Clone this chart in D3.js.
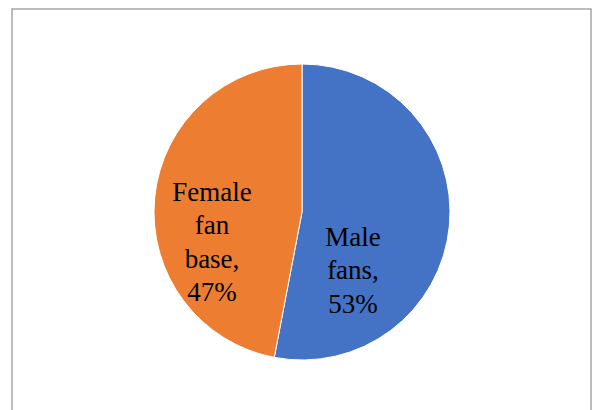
<!DOCTYPE html>
<html>
<head>
<meta charset="utf-8">
<script src="https://cdn.jsdelivr.net/npm/d3@7"></script>
</head>
<body style="margin:0;background:#fff">
<svg id="chart" width="594" height="410"></svg>
<script>
const categories = ['Male fans', 'Female fan base'];
const values = [53, 47];
const labelLines = [['Male', 'fans,', '53%'], ['Female', 'fan', 'base,', '47%']];
const colors = ['#4472C4', '#ED7D31'];

const svg = d3.select('#chart');

// chart frame (bottom edge lies outside the picture)
svg.append('rect')
  .attr('x', 12)
  .attr('y', 9)
  .attr('width', 579)
  .attr('height', 420)
  .attr('fill', 'none')
  .attr('stroke', '#a6a6a6')
  .attr('stroke-width', 1.5);

const cx = 302;
const cy = 212;
const radius = 148;

const pie = d3.pie().sort(null).value(d => d);
const arc = d3.arc().innerRadius(0).outerRadius(radius);

const arcs = pie(values);

svg.append('g')
  .attr('transform', `translate(${cx},${cy})`)
  .selectAll('path')
  .data(arcs)
  .join('path')
  .attr('d', arc)
  .attr('fill', (d, i) => colors[i])
  .attr('stroke', '#fff')
  .attr('stroke-width', 1);

// label centres (absolute, middle baseline) and line spacing
const labelPos = [[353, 279], [212, 251]];
const lineH = 33.5;

const rows = [];
labelLines.forEach((lines, i) => {
  lines.forEach((ln, k) => {
    rows.push({
      text: ln,
      x: labelPos[i][0],
      y: labelPos[i][1] + (k - (lines.length - 1) / 2) * lineH
    });
  });
});

svg.selectAll('text')
  .data(rows)
  .join('text')
  .attr('x', d => d.x)
  .attr('y', d => d.y)
  .attr('text-anchor', 'middle')
  .attr('font-size', 27)
  .style('font-family', "'Liberation Serif'")
  .text(d => d.text);
</script>
</body>
</html>
